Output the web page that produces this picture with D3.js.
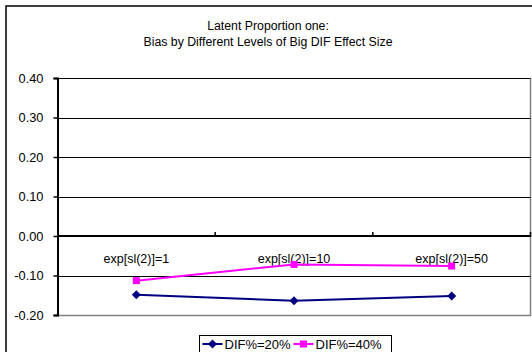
<!DOCTYPE html>
<html>
<head>
<meta charset="utf-8">
<script src="https://cdn.jsdelivr.net/npm/d3@7"></script>
<style>
  body { margin: 0; background: #fff; }
  svg { display: block; font-family: "Liberation Sans", Arial, sans-serif; }
</style>
</head>
<body>
<svg id="chart" width="532" height="352"></svg>
<script>
// data
const categories = ['exp[sl(2)]=1', 'exp[sl(2)]=10', 'exp[sl(2)]=50']
const dif20 = [-0.149, -0.164, -0.152]
const dif40 = [-0.113, -0.072, -0.076]
const yTicks = [0.40, 0.30, 0.20, 0.10, 0.00, -0.10, -0.20]
const seriesNames = ['DIF%=20%', 'DIF%=40%']

const series = [
  { name: seriesNames[0], values: dif20, color: '#000080', marker: 'diamond' },
  { name: seriesNames[1], values: dif40, color: '#ff00ff', marker: 'square' },
]

const plot = { left: 57.5, right: 530.5, top: 78, bottom: 315 }
const svg = d3.select('#chart')

// outer chart border
svg.append('rect')
  .attr('x', 6).attr('y', 6)
  .attr('width', 540).attr('height', 360)
  .attr('fill', 'none').attr('stroke', '#000').attr('stroke-width', 1.5)

// titles
svg.append('text')
  .attr('x', 268).attr('y', 30)
  .attr('text-anchor', 'middle').attr('font-size', 12.3)
  .text('Latent Proportion one:')
svg.append('text')
  .attr('x', 268).attr('y', 46)
  .attr('text-anchor', 'middle').attr('font-size', 12.3)
  .text('Bias by Different Levels of Big DIF Effect Size')

// scales
const x = d3.scaleBand()
  .domain(categories)
  .range([plot.left, plot.right])
const y = d3.scaleLinear()
  .domain([-0.20, 0.40])
  .range([plot.bottom, plot.top])

// plot border (grey right/bottom)
svg.append('path')
  .attr('d', `M${plot.left},${plot.bottom + 0.5}H${plot.right}V${plot.top}`)
  .attr('fill', 'none').attr('stroke', '#808080').attr('stroke-width', 1.5)

// gridlines
svg.append('g')
  .selectAll('line')
  .data(yTicks.filter(d => d !== -0.20))
  .join('line')
    .attr('x1', plot.left).attr('x2', plot.right)
    .attr('y1', d => Math.round(y(d)) + 0.5).attr('y2', d => Math.round(y(d)) + 0.5)
    .attr('stroke', '#000').attr('stroke-width', 1)

// y axis
svg.append('g')
  .attr('transform', `translate(${plot.left},0)`)
  .call(d3.axisLeft(y).tickValues(yTicks).tickFormat(d3.format('.2f')).tickSize(4).tickPadding(10))
  .call(g => g.select('.domain').attr('stroke-width', 2))
  .call(g => g.selectAll('.tick line').attr('stroke-width', 1.5))
  .call(g => g.selectAll('.tick text').attr('font-size', 12.8).attr('fill', '#000')
    .attr('font-family', '"Liberation Sans", Arial, sans-serif')
    .text(d => d3.format('.2f')(d).replace('−', '-')))

// category axis at zero
const zeroY = y(0)
svg.append('line')
  .attr('x1', plot.left).attr('x2', plot.right)
  .attr('y1', zeroY).attr('y2', zeroY)
  .attr('stroke', '#000').attr('stroke-width', 2)
svg.append('g')
  .selectAll('line')
  .data(categories)
  .join('line')
    .attr('x1', d => x(d) + x.bandwidth()).attr('x2', d => x(d) + x.bandwidth())
    .attr('y1', zeroY - 4).attr('y2', zeroY + 1)
    .attr('stroke', '#000').attr('stroke-width', 1.5)
svg.append('g')
  .selectAll('text')
  .data(categories)
  .join('text')
    .attr('x', d => x(d) + x.bandwidth() / 2)
    .attr('y', zeroY + 27)
    .attr('text-anchor', 'middle').attr('font-size', 12.5)
    .text(d => d)

// lines and markers
const cx = (_, i) => x(categories[i]) + x.bandwidth() / 2
const line = d3.line().x(cx).y(d => y(d))
const markerPath = (type, s) => type === 'diamond'
  ? `M0,${-s}L${s},0L0,${s}L${-s},0Z`
  : `M${-s},${-s}H${s}V${s}H${-s}Z`

series.forEach(s => {
  svg.append('path')
    .datum(s.values)
    .attr('d', line)
    .attr('fill', 'none').attr('stroke', s.color).attr('stroke-width', 2)
  svg.append('g')
    .selectAll('path')
    .data(s.values)
    .join('path')
      .attr('transform', (d, i) => `translate(${cx(d, i)},${y(d)})`)
      .attr('d', markerPath(s.marker, s.marker === 'diamond' ? 4.5 : 3.5))
      .attr('fill', s.color)
})

// legend
const legend = svg.append('g').attr('transform', 'translate(199.5,335.5)')
legend.append('rect')
  .attr('width', 192).attr('height', 20)
  .attr('fill', '#fff').attr('stroke', '#000').attr('stroke-width', 1)
const item = legend.selectAll('g')
  .data(series)
  .join('g')
    .attr('transform', (d, i) => `translate(${3 + i * 91},8.5)`)
item.append('line')
  .attr('x1', 0).attr('x2', 20)
  .attr('stroke', d => d.color).attr('stroke-width', 2)
item.append('path')
  .attr('transform', 'translate(10,0)')
  .attr('d', d => markerPath(d.marker, d.marker === 'diamond' ? 4.5 : 3.5))
  .attr('fill', d => d.color)
item.append('text')
  .attr('x', 22).attr('y', 4.8)
  .attr('font-size', 13)
  .text(d => d.name)
</script>
</body>
</html>
